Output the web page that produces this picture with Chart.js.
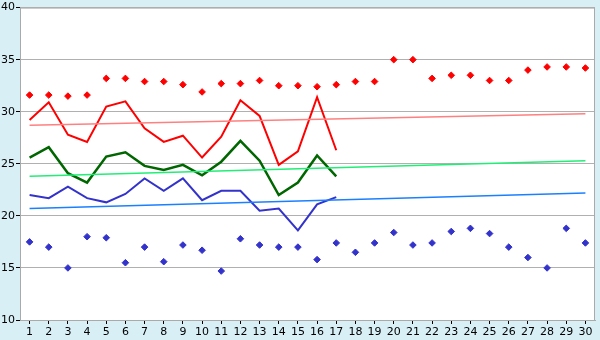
<!DOCTYPE html>
<html>
<head>
<meta charset="utf-8">
<script src="https://cdn.jsdelivr.net/npm/chart.js@4.4.1/dist/chart.umd.min.js"></script>
<style>
  html, body { margin: 0; padding: 0; background: #d9eff6; }
  #myChart { display: block; }
</style>
</head>
<body>
<canvas id="myChart" width="600" height="340"></canvas>
<script>
// day of month
var days = ['1','2','3','4','5','6','7','8','9','10','11','12','13','14','15',
            '16','17','18','19','20','21','22','23','24','25','26','27','28','29','30'];

// daily records (diamonds)
var recordMax = [31.6,31.6,31.5,31.6,33.2,33.2,32.9,32.9,32.6,31.9,32.7,32.7,33.0,32.5,32.5,
                 32.4,32.6,32.9,32.9,35.0,35.0,33.2,33.5,33.5,33.0,33.0,34.0,34.3,34.3,34.2];
var recordMin = [17.5,17.0,15.0,18.0,17.9,15.5,17.0,15.6,17.2,16.7,14.7,17.8,17.2,17.0,17.0,
                 15.8,17.4,16.5,17.4,18.4,17.2,17.4,18.5,18.8,18.3,17.0,16.0,15.0,18.8,17.4];

// this month so far (lines, days 1-17)
var highTemp = [29.2,30.9,27.8,27.1,30.5,31.0,28.4,27.1,27.7,25.6,27.6,31.1,29.6,24.9,26.2,31.4,26.3];
var meanTemp = [25.6,26.6,24.1,23.2,25.7,26.1,24.8,24.4,24.9,23.9,25.2,27.2,25.3,22.0,23.2,25.8,23.8];
var lowTemp  = [22.0,21.7,22.8,21.7,21.3,22.1,23.6,22.4,23.6,21.5,22.4,22.4,20.5,20.7,18.6,21.1,21.8];

// normals (start of month, end of month)
var normalHigh = [28.7, 29.8];
var normalMean = [23.8, 25.3];
var normalLow  = [20.7, 22.2];

function endpoints(pair) {
  var arr = days.map(function() { return null; });
  arr[0] = pair[0];
  arr[arr.length - 1] = pair[1];
  return arr;
}

var plotFrame = {
  id: 'plotFrame',
  beforeDraw: function(chart) {
    var a = chart.chartArea, c = chart.ctx;
    c.save();
    c.fillStyle = '#ffffff';
    c.fillRect(a.left, a.top, a.right - a.left, a.bottom - a.top);
    c.restore();
  },
  afterDraw: function(chart) {
    var a = chart.chartArea, c = chart.ctx;
    c.save();
    c.strokeStyle = '#aaaaaa';
    c.lineWidth = 1;
    c.strokeRect(a.left + 0.5, a.top + 0.5, a.right - a.left - 1, a.bottom - a.top);
    c.restore();
  }
};

const ctx = document.getElementById('myChart');
var chart = new Chart(ctx, {
  type: 'line',
  data: {
    labels: days,
    datasets: [
      { data: endpoints(normalHigh), borderColor: '#ff8080', borderWidth: 1.5, pointRadius: 0, spanGaps: true },
      { data: endpoints(normalMean), borderColor: '#22ee77', borderWidth: 1.5, pointRadius: 0, spanGaps: true },
      { data: endpoints(normalLow),  borderColor: '#1a80ff', borderWidth: 1.5, pointRadius: 0, spanGaps: true },
      { data: highTemp, borderColor: '#ff0000', borderWidth: 2, pointRadius: 0 },
      { data: meanTemp, borderColor: '#006600', borderWidth: 2.5, pointRadius: 0 },
      { data: lowTemp,  borderColor: '#3333cc', borderWidth: 2, pointRadius: 0 },
      { data: recordMax, showLine: false, pointStyle: 'rectRot', pointRadius: 3.3,
        backgroundColor: '#ff0000', borderColor: '#ff0000', borderWidth: 1 },
      { data: recordMin, showLine: false, pointStyle: 'rectRot', pointRadius: 3.3,
        backgroundColor: '#3333cc', borderColor: '#3333cc', borderWidth: 1 }
    ]
  },
  options: {
    responsive: false,
    animation: false,
    layout: { padding: { top: 5, right: 5, left: 0, bottom: 0 } },
    plugins: { legend: { display: false }, tooltip: { enabled: false } },
    scales: {
      x: {
        offset: true,
        afterFit: function(s) { s.height = 20; },
        grid: { offset: false, drawOnChartArea: false, tickLength: 4, tickColor: '#000000' },
        border: { color: '#aaaaaa' },
        ticks: { color: '#000000', padding: 2, maxRotation: 0, autoSkip: false,
                 font: { family: 'DejaVu Sans', size: 11 } }
      },
      y: {
        min: 10, max: 40,
        afterFit: function(s) { s.width = 20; },
        grid: { color: '#b0b0b0', tickLength: 4, tickColor: '#000000' },
        border: { color: '#aaaaaa' },
        ticks: { stepSize: 5, color: '#000000', padding: 1,
                 font: { family: 'DejaVu Sans', size: 11 } }
      }
    }
  },
  plugins: [plotFrame]
});
</script>
</body>
</html>
